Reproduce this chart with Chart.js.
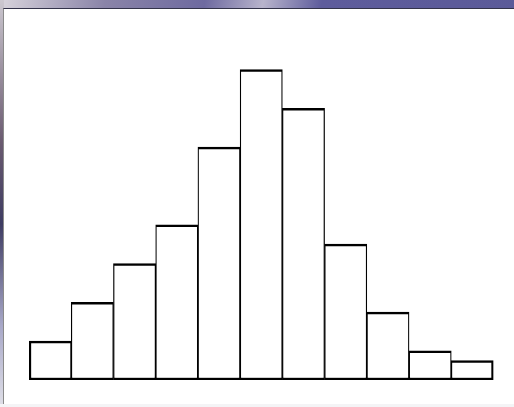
<!DOCTYPE html>
<html>
<head>
<meta charset="utf-8">
<script src="https://cdn.jsdelivr.net/npm/chart.js@4/dist/chart.umd.min.js"></script>
<style>
  html, body { margin: 0; padding: 0; }
  body {
    width: 514px; height: 407px; overflow: hidden; position: relative;
    background: linear-gradient(100deg, #d8d4dc 0%, #8a84a8 18%, #6e6aa0 35%, #b8b4cc 45%, #5e5c9c 55%, #5a5a98 100%);
  }
  #side {
    position: absolute; left: 0; top: 0; width: 4px; height: 407px;
    background: linear-gradient(180deg, #ccc8d0 0%, #6a5a70 35%, #3e3c62 55%, #a8a8c8 80%, #e0e0e8 100%);
  }
  #panel {
    position: absolute; left: 3px; top: 8px; width: 510px; height: 395px;
    background: #fff;
    border-top: 1px solid #33334a; border-left: 1px solid #8a8a8a; border-bottom: 1px solid #888;
  }
  #foot { position: absolute; left: 0; top: 404px; width: 514px; height: 3px; background: #f4f4f6; }
  #wrap { position: absolute; left: 0; top: 0; width: 514px; height: 407px; }
</style>
</head>
<body>
<div id="side"></div>
<div id="panel"></div>
<div id="foot"></div>
<div id="wrap"><canvas id="chart"></canvas></div>
<script>
// histogram classes and counts
const bins = ["1", "2", "3", "4", "5", "6", "7", "8", "9", "10", "11"];
const counts = [4, 8, 12, 16, 24, 32, 28, 14, 7, 3, 2];

const last = counts.length - 1;

new Chart(document.getElementById("chart"), {
  type: "bar",
  data: {
    labels: bins,
    datasets: [{
      data: counts,
      backgroundColor: "#ffffff",
      borderColor: "#000000",
      // neighbours share an edge, so each side only draws half of it
      borderWidth: ctx => ({
        top: 2.5,
        bottom: 2.5,
        left: ctx.dataIndex === 0 ? 2.5 : 1.25,
        right: ctx.dataIndex === last ? 2.5 : 1.25
      }),
      borderSkipped: false,
      categoryPercentage: 1,
      barPercentage: 1
    }]
  },
  options: {
    responsive: true,
    maintainAspectRatio: false,
    animation: false,
    layout: { padding: { left: 29, right: 20.5, top: 40.5, bottom: 27 } },
    scales: {
      x: { display: false },
      y: { display: false, min: 0, max: 35 }
    },
    plugins: {
      legend: { display: false },
      tooltip: { enabled: false }
    }
  }
});
</script>
</body>
</html>
